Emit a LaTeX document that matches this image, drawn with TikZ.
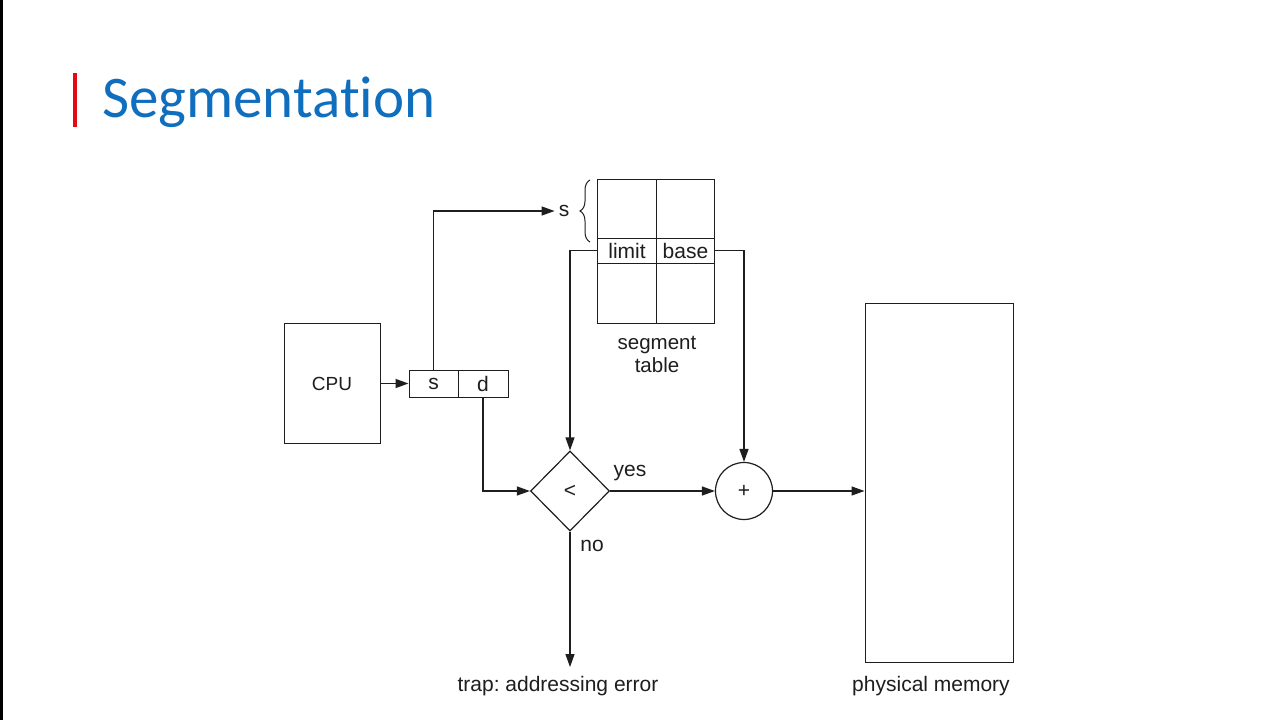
\documentclass[tikz,border=0pt]{standalone}
\usepackage{fontspec}
\setmainfont{Liberation Sans}
\newfontfamily\titlefont[Ligatures={NoCommon,NoRequired,NoContextual}]{Carlito}
\usetikzlibrary{shapes.geometric,arrows.meta,decorations.pathreplacing,calc}
\definecolor{titleblue}{RGB}{16,110,190}
\definecolor{barred}{RGB}{228,10,20}
\definecolor{ink}{RGB}{30,30,30}
\frenchspacing
\begin{document}
\begin{tikzpicture}[x=1pt,y=-1pt,
  box/.style={draw=ink,line width=1pt,inner sep=0pt},
  cell/.style={draw=ink,line width=1pt,inner sep=0pt,minimum width=58.5pt},
  lbl/.style={font=\fontsize{21}{25}\selectfont,text=ink,inner sep=1pt},
  conn/.style={draw=ink,line width=1.3pt},
  arr/.style={conn,-{Triangle[length=13pt,width=9pt]}}]
\useasboundingbox (0,0) rectangle (1280,720);
\fill[white] (0,0) rectangle (1280,720);
\fill[black] (0,0) rectangle (3,720);
% title
\fill[barred] (73,73) rectangle (77,127);
\node[anchor=base west,inner sep=0pt,text=titleblue,font=\titlefont\fontsize{59}{70}\selectfont] (title) at (102,117) {Segmentation};
% CPU
\node[box,minimum width=96pt,minimum height=120pt,lbl,font=\fontsize{19}{22}\selectfont] (cpu) at (332,383.5) {CPU};
\node[box,minimum width=49pt,minimum height=27pt,lbl] (sf) at (433.5,383.5) {s};
\node[box,minimum width=50pt,minimum height=27pt,lbl] (df) at (483,383.5) {d};
% segment table
\node[cell,minimum height=59pt] (c11) at (627,208.5) {};
\node[cell,minimum height=59pt] (c12) at (685.5,208.5) {};
\node[cell,minimum height=25pt,lbl,inner sep=0pt] (limit) at (627,250.5) {limit};
\node[cell,minimum height=25pt,lbl,inner sep=0pt] (base) at (685.5,250.5) {base};
\node[cell,minimum height=60pt] (c31) at (627,293) {};
\node[cell,minimum height=60pt] (c32) at (685.5,293) {};
\node[lbl,align=center,font=\fontsize{20.5}{23}\selectfont] (segt) at (657,354) {segment\\table};
% s label and brace
\node[lbl] (slab) at (564,211) {s};
\draw[ink,line width=1pt,decorate,decoration={brace,amplitude=10pt}] (590,242) -- (590,180);
% diamond and adder
\node[draw=ink,line width=1.2pt,diamond,minimum width=79pt,minimum height=80pt,inner sep=0pt,lbl] (cmp) at (570,491) {<};
\node[draw=ink,line width=1.2pt,circle,minimum size=57pt,inner sep=0pt,lbl] (add) at (744,491) {+};
% memory
\node[box,minimum width=148pt,minimum height=359pt] (mem) at (939,482.5) {};
\node[lbl] (meml) at (931,686) {physical memory};
\node[lbl] (trap) at (558,686) {trap: addressing error};
\node[lbl] (yes) at (630,473) {yes};
\node[lbl] (no) at (592,546) {no};
% connectors
\draw[arr] (cpu.east) -- (sf.west);
\draw[arr] (sf.north) -- (sf.north |- slab) -- ($(slab.west)+(-3,0)$);
\draw[arr] (limit.west) -| (cmp.north);
\draw[arr] (base.east) -| (add.north);
\draw[arr] (df.south) |- (cmp.west);
\draw[arr] (cmp.east) -- (add.west);
\draw[arr] (add.east) -- (add.east -| mem.west);
\draw[arr] (cmp.south) -- ($(cmp.south |- trap.north)+(0,-8)$);
\end{tikzpicture}
\end{document}
